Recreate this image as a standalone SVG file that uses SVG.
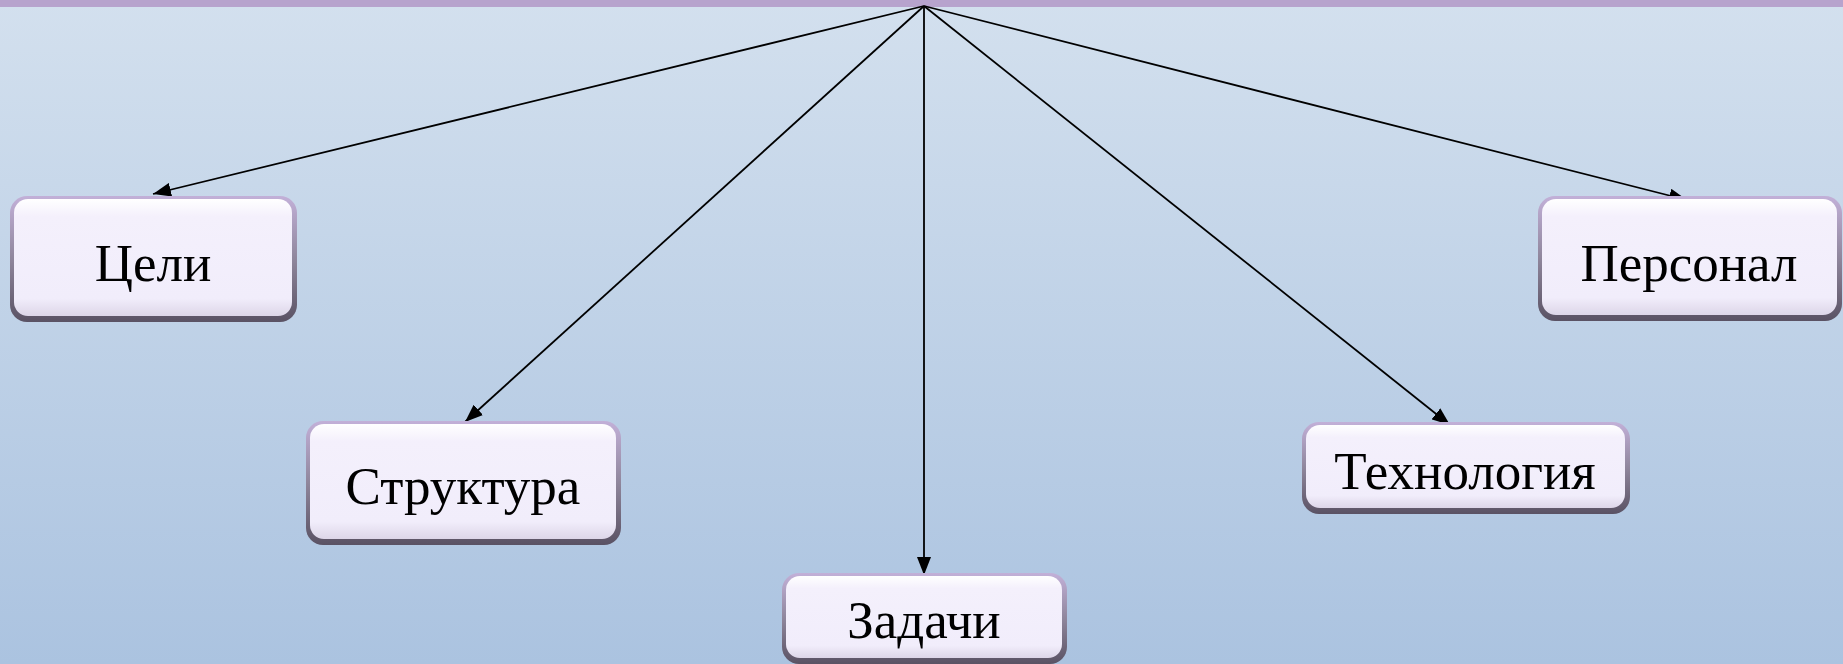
<svg xmlns="http://www.w3.org/2000/svg" width="1843" height="664" viewBox="0 0 1843 664">
<defs>
<linearGradient id="bg" x1="0" y1="0" x2="0" y2="1">
<stop offset="0" stop-color="#d3e0ee"/>
<stop offset="1" stop-color="#abc3e0"/>
</linearGradient>
<linearGradient id="edge" x1="0" y1="0" x2="0" y2="1">
<stop offset="0" stop-color="#c2b0d8"/>
<stop offset="0.5" stop-color="#8f869c"/>
<stop offset="1" stop-color="#5a5264"/>
</linearGradient>
<linearGradient id="face" x1="0" y1="0" x2="0" y2="1">
<stop offset="0" stop-color="#ffffff"/>
<stop offset="0.15" stop-color="#f4f0fc"/>
<stop offset="0.85" stop-color="#f1edfb"/>
<stop offset="1" stop-color="#ddd6e8"/>
</linearGradient>
<marker id="arr" viewBox="0 0 18 14" refX="18" refY="7" markerWidth="18" markerHeight="14" markerUnits="userSpaceOnUse" orient="auto">
<path d="M0,0 L18,7 L0,14 z" fill="#000"/>
</marker>
<style>
.box-outer{fill:url(#edge);}
.box-inner{fill:url(#face);}
.lbl{font-family:"Liberation Serif","Times New Roman",serif;font-size:53px;fill:#000;text-anchor:middle;}
.conn{stroke:#000;stroke-width:1.8;fill:none;marker-end:url(#arr);}
</style>
</defs>
<rect x="0" y="0" width="1843" height="664" fill="url(#bg)"/>
<rect x="0" y="0" width="1843" height="7" fill="#b7a3cd"/>
<g id="connectors">
<line class="conn" x1="924" y1="6" x2="153" y2="194"/>
<line class="conn" x1="924" y1="6" x2="465" y2="422"/>
<line class="conn" x1="924" y1="6" x2="924" y2="575"/>
<line class="conn" x1="924" y1="6" x2="1450" y2="425"/>
<line class="conn" x1="924" y1="6" x2="1687" y2="200"/>
</g>
<g id="node-celi">
<rect class="box-outer" x="10" y="196" width="287" height="126" rx="17"/>
<rect class="box-inner" x="14" y="199" width="278" height="117" rx="14"/>
<text class="lbl" x="153" y="281">Цели</text>
</g>
<g id="node-struktura">
<rect class="box-outer" x="306" y="421" width="315" height="124" rx="17"/>
<rect class="box-inner" x="310" y="424" width="306" height="115" rx="14"/>
<text class="lbl" x="463" y="504">Структура</text>
</g>
<g id="node-zadachi">
<rect class="box-outer" x="782" y="573" width="285" height="91" rx="17"/>
<rect class="box-inner" x="786" y="576" width="276" height="82" rx="14"/>
<text class="lbl" x="924" y="638">Задачи</text>
</g>
<g id="node-tehnologiya">
<rect class="box-outer" x="1302" y="422" width="328" height="92" rx="17"/>
<rect class="box-inner" x="1306" y="425" width="319" height="83" rx="14"/>
<text class="lbl" x="1465" y="489">Технология</text>
</g>
<g id="node-personal">
<rect class="box-outer" x="1538" y="196" width="304" height="125" rx="17"/>
<rect class="box-inner" x="1542" y="199" width="295" height="116" rx="14"/>
<text class="lbl" x="1689" y="281">Персонал</text>
</g>
</svg>
